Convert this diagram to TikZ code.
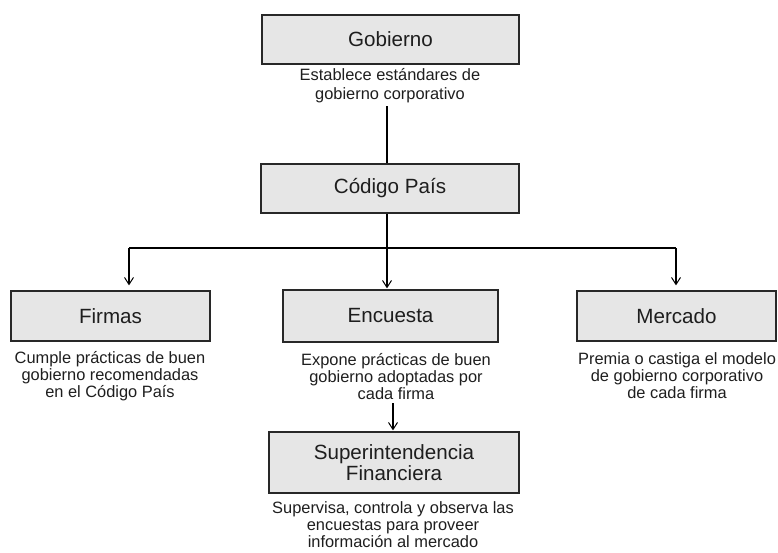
\documentclass[tikz,border=0pt]{standalone}
\usepackage{fontspec}
\setmainfont{Liberation Sans}
\usetikzlibrary{arrows.meta}
\definecolor{boxfill}{RGB}{230,230,230}
\definecolor{boxline}{RGB}{40,40,40}
\definecolor{txt}{RGB}{30,30,30}
\begin{document}
\begin{tikzpicture}[x=1pt,y=-1pt,
  box/.style={draw=boxline,line width=1.3pt,fill=boxfill,inner sep=0pt,align=center,
    text=txt,font=\fontsize{20.6}{21}\selectfont},
  desc/.style={inner sep=0pt,align=center,text=txt,font=\fontsize{16.4}{17}\selectfont},
  conn/.style={draw=black,line width=1.1pt},
  arr/.style={conn,-{Straight Barb[length=7pt,width=9pt,line width=1pt]}}]
\useasboundingbox (0,0) rectangle (778,552);
% boxes
\node[box,minimum width=257pt,minimum height=49pt] (gob) at (390.5,39.5) {Gobierno};
\node[box,minimum width=258pt,minimum height=49pt] (cod) at (390,188.5) {Código País};
\node[box,minimum width=199pt,minimum height=50pt] (fir) at (110.5,316) {Firmas};
\node[box,minimum width=215pt,minimum height=52pt] (enc) at (390.5,316) {Encuesta};
\node[box,minimum width=199pt,minimum height=50pt] (mer) at (676.5,316) {Mercado};
\node[box,minimum width=250pt,minimum height=61pt] (sup) at (394,462.5) {Superintendencia\\Financiera};
% descriptions
\node[desc,font=\fontsize{16.4}{19}\selectfont] (gobd) at (390,86) {Establece estándares de\\gobierno corporativo};
\node[desc] (fird) at (110,376) {Cumple prácticas de buen\\gobierno recomendadas\\en el Código País};
\node[desc] (encd) at (396,377) {Expone prácticas de buen\\gobierno adoptadas por\\cada firma};
\node[desc] (merd) at (677,376) {Premia o castiga el modelo\\de gobierno corporativo\\de cada firma};
\node[desc] (supd) at (393,525) {Supervisa, controla y observa las\\encuestas para proveer\\información al mercado};
% coordinates
\coordinate (gtop) at (387,106);
\coordinate (jm) at (387,248);
\coordinate (jl) at (129,248);
\coordinate (jr) at (676,248);
\coordinate (etop) at (393,403);
% connectors
\draw[conn] (gtop) -- (gtop |- cod.north);
\draw[conn] (jm |- cod.south) -- (jm);
\draw[conn] (jl) -- (jr);
\draw[arr,shorten >=5pt] (jl) -- (jl |- fir.north);
\draw[arr,shorten >=1pt] (jm) -- (jm |- enc.north);
\draw[arr,shorten >=5pt] (jr) -- (jr |- mer.north);
\draw[arr,shorten >=1pt] (etop) -- (etop |- sup.north);
\end{tikzpicture}
\end{document}
